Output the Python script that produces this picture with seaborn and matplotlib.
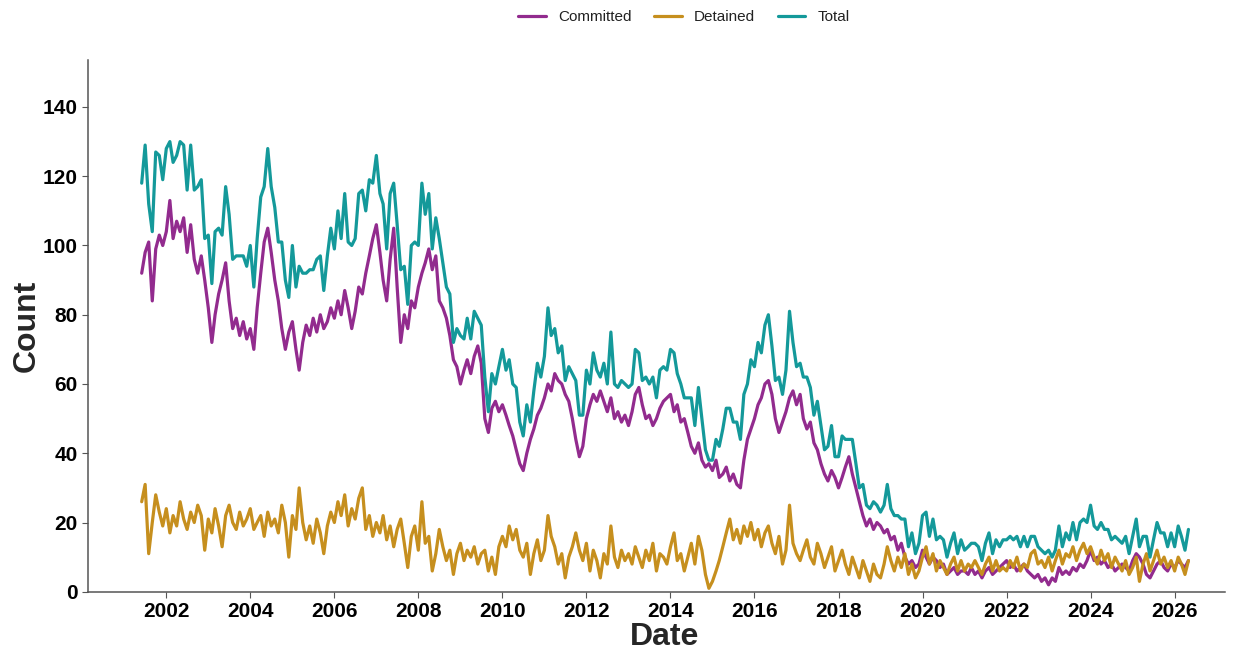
import pandas as pd
import numpy as np
import seaborn as sns
import matplotlib.pyplot as plt
import matplotlib.dates as mdates

# Ежемесячные значения (июнь 2001 - май 2026)
committed = [
    92, 98, 101, 84, 99, 103, 100,
    104, 113, 102, 107, 104, 108, 98, 106, 96, 92, 97, 90,
    82, 72, 80, 86, 90, 95, 84, 76, 79, 74, 78, 73,
    76, 70, 82, 92, 101, 105, 98, 90, 84, 76, 70, 75,
    78, 70, 64, 72, 77, 74, 79, 75, 80, 76, 78, 82,
    79, 84, 80, 87, 82, 76, 81, 88, 86, 92, 97, 102,
    106, 98, 90, 84, 96, 105, 88, 72, 80, 76, 84, 82,
    88, 92, 95, 99, 93, 97, 84, 82, 79, 74, 67, 65,
    60, 64, 67, 63, 68, 71, 66, 50, 46, 53, 55, 52,
    54, 51, 48, 45, 41, 37, 35, 40, 44, 47, 51, 53,
    56, 60, 58, 63, 61, 60, 57, 55, 50, 44, 39, 42,
    50, 54, 57, 55, 58, 55, 52, 56, 50, 52, 49, 51,
    48, 52, 57, 59, 54, 50, 51, 48, 50, 53, 55, 56,
    57, 52, 54, 49, 50, 46, 42, 40, 43, 38, 36, 37,
    35, 38, 33, 34, 36, 32, 34, 31, 30, 38, 44, 47,
    50, 54, 56, 60, 61, 57, 50, 46, 49, 52, 56, 58,
    54, 57, 50, 47, 49, 43, 41, 37, 34, 32, 35, 33,
    30, 33, 36, 39, 34, 30, 26, 22, 19, 21, 18, 20,
    19, 17, 18, 15, 16, 12, 14, 10, 8, 9, 7, 8,
    12, 10, 8, 10, 9, 7, 8, 5, 6, 7, 5, 6,
    6, 5, 7, 5, 6, 4, 6, 7, 5, 6, 7, 8,
    9, 7, 8, 6, 7, 8, 6, 5, 4, 5, 3, 4,
    2, 4, 3, 7, 5, 6, 5, 7, 6, 8, 7, 9,
    12, 9, 10, 8, 9, 7, 8, 6, 7, 8, 7, 6,
    9, 11, 10, 8, 5, 4, 6, 8, 9, 7, 6, 8,
    7, 9, 8, 7, 9,
]

detained = [
    26, 31, 11, 20, 28, 23, 19,
    24, 17, 22, 19, 26, 21, 18, 23, 20, 25, 22, 12,
    21, 17, 24, 19, 13, 22, 25, 20, 18, 23, 19, 21,
    24, 18, 20, 22, 16, 23, 19, 21, 17, 25, 20, 10,
    22, 18, 30, 20, 15, 19, 14, 21, 17, 11, 19, 23,
    20, 26, 22, 28, 19, 24, 21, 27, 30, 18, 22, 16,
    20, 17, 22, 15, 19, 13, 18, 21, 14, 7, 16, 19,
    12, 26, 14, 16, 6, 11, 18, 13, 9, 12, 5, 11,
    14, 9, 12, 10, 13, 8, 11, 12, 6, 10, 5, 13,
    16, 13, 19, 15, 18, 12, 10, 14, 5, 11, 15, 9,
    12, 22, 16, 13, 8, 11, 4, 10, 13, 17, 12, 9,
    14, 6, 12, 9, 4, 11, 8, 19, 10, 7, 12, 9,
    11, 8, 13, 10, 7, 12, 9, 14, 6, 11, 10, 8,
    13, 17, 9, 11, 6, 10, 14, 8, 16, 12, 5, 1,
    3, 6, 9, 13, 17, 21, 15, 18, 14, 19, 16, 20,
    15, 18, 13, 17, 19, 14, 11, 16, 8, 12, 25, 14,
    11, 9, 12, 15, 10, 8, 14, 11, 7, 10, 13, 6,
    9, 12, 8, 5, 10, 7, 4, 9, 6, 3, 8, 5,
    4, 8, 13, 9, 6, 10, 7, 11, 5, 8, 4, 6,
    10, 13, 8, 11, 6, 9, 7, 5, 8, 10, 6, 9,
    6, 8, 7, 9, 7, 5, 8, 10, 6, 9, 6, 7,
    6, 9, 7, 10, 6, 8, 7, 11, 12, 8, 9, 7,
    10, 6, 9, 12, 8, 11, 10, 13, 9, 12, 14, 11,
    13, 10, 8, 12, 9, 11, 7, 10, 8, 6, 9, 5,
    7, 10, 3, 8, 11, 6, 9, 12, 8, 10, 7, 9,
    6, 10, 8, 5, 9,
]

dates = pd.date_range('2001-06-01', periods=len(committed), freq='MS')
total = [c + d for c, d in zip(committed, detained)]

df = pd.DataFrame({'Date': dates, 'Committed': committed,
                   'Detained': detained, 'Total': total})
long_df = df.melt(id_vars='Date', var_name='Type', value_name='Count')

palette = {'Committed': '#922B8E', 'Detained': '#C68F1E', 'Total': '#14999A'}

sns.set_style('ticks')
plt.rcParams['font.family'] = ['Liberation Sans', 'DejaVu Sans']

fig = plt.figure(figsize=(12.39, 6.51), dpi=100)
ax = fig.add_axes([0.071, 0.091, 0.918, 0.817])

sns.lineplot(data=long_df, x='Date', y='Count', hue='Type', palette=palette,
             linewidth=2.3, ax=ax)

ax.set_xlim(pd.Timestamp('2000-02-20'), pd.Timestamp('2027-03-18'))
ax.set_ylim(0, 153.6)
ax.set_yticks(range(0, 141, 20))
ax.xaxis.set_major_locator(mdates.YearLocator(2))
ax.xaxis.set_major_formatter(mdates.DateFormatter('%Y'))

for lab in ax.get_xticklabels() + ax.get_yticklabels():
    lab.set_fontweight('bold')
ax.tick_params(labelsize=15, length=4, color='#555555', labelcolor='black')
ax.set_xlabel('Date', fontsize=23, fontweight='bold')
ax.set_ylabel('Count', fontsize=23, fontweight='bold')
ax.xaxis.set_label_coords(0.507, -0.056)
ax.yaxis.set_label_coords(-0.041, 0.5)

for side in ['top', 'right']:
    ax.spines[side].set_visible(False)
for side in ['left', 'bottom']:
    ax.spines[side].set_color('#555555')
    ax.spines[side].set_linewidth(1.1)

handles, labels = ax.get_legend_handles_labels()
ax.legend_.remove()
fig.legend(handles, labels, loc='upper center', bbox_to_anchor=(0.552, 1.005),
           ncol=3, frameon=False, fontsize=11, handlelength=1.8,
           columnspacing=1.5, labelcolor='#222222')

fig.savefig('out.png', dpi=100)
